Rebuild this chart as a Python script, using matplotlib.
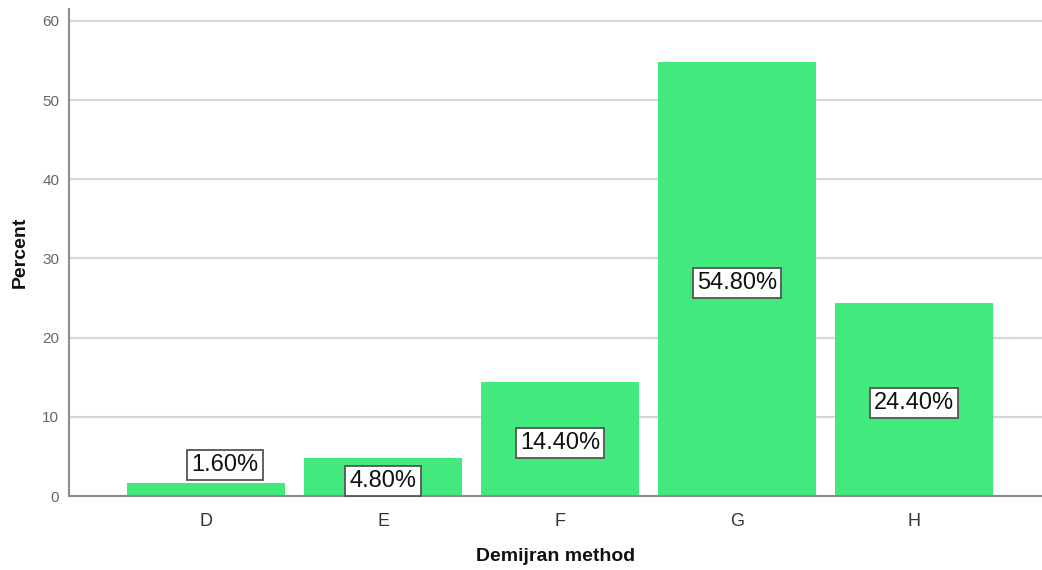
import numpy as np
import matplotlib
matplotlib.use('Agg')
import matplotlib.pyplot as plt

categories = ['D', 'E', 'F', 'G', 'H']
percent = [1.6, 4.8, 14.4, 54.8, 24.4]
labels = ['1.60%', '4.80%', '14.40%', '54.80%', '24.40%']

plt.rcParams['font.family'] = ['Liberation Sans', 'DejaVu Sans']

fig = plt.figure(figsize=(10.42, 5.70), dpi=100)
ax = fig.add_axes([69 / 1042, 74 / 570, 973 / 1042, 487 / 570])

x = np.arange(len(categories))
ax.bar(x, percent, width=0.893, color='#42E97D', zorder=2)

# value labels: centred in the bar, or just above it when the bar is too short
for xi, v, lab in zip(x, percent, labels):
    if v < 3:
        tx, ty = xi + 0.107, v + 2.3
    else:
        tx, ty = xi, v / 2 - 0.45
    ax.text(tx, ty, lab, ha='center', va='center', fontsize=17, color='#111111', zorder=3,
            bbox=dict(boxstyle='square,pad=0.17', facecolor='white', edgecolor='#555555', linewidth=1.3))

ax.set_xlim(-0.774, 4.723)
ax.set_ylim(0, 61.5)
ax.set_yticks(np.arange(0, 61, 10))
ax.set_xticks(x)
ax.set_xticklabels(categories)

ax.yaxis.grid(True, color='#d6d6d6', linewidth=1.6, zorder=0)
ax.set_axisbelow(True)
for s in ['top', 'right']:
    ax.spines[s].set_visible(False)
for s in ['left', 'bottom']:
    ax.spines[s].set_color('#8c8c8c')
    ax.spines[s].set_linewidth(1.5)

ax.tick_params(axis='y', length=0, pad=7, labelsize=11, labelcolor='#666666')
ax.tick_params(axis='x', length=0, pad=12, labelsize=13, labelcolor='#333333')

ax.set_ylabel('Percent', fontsize=14, fontweight='bold', color='#111111', labelpad=10)
ax.set_xlabel('Demijran method', fontsize=14, fontweight='bold', color='#111111', labelpad=13)

fig.savefig('out.png', dpi=100)
